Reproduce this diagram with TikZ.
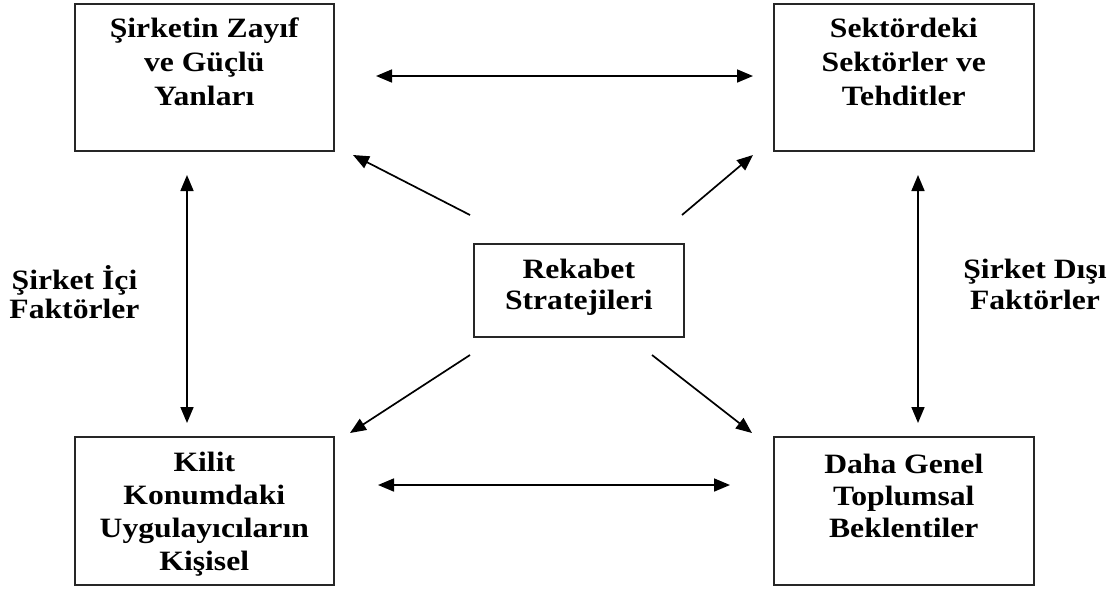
\documentclass[tikz,border=0pt]{standalone}
\usepackage{fontspec}
\setmainfont{Liberation Serif}[FakeStretch=1.13]
\usetikzlibrary{arrows.meta}
\newcommand{\boxtxt}[5]{\parbox[t][#2][t]{#1}{\fontsize{28}{#4}\selectfont\centering\rule{0pt}{#3}#5}}
\begin{document}
\begin{tikzpicture}[x=1pt,y=-1pt,
  box/.style={draw=black!85, line width=1.6pt, inner sep=0pt, anchor=north west, font=\bfseries},
  lbl/.style={inner sep=0pt, anchor=north, font=\bfseries},
  arr/.style={line width=1.7pt, -{Triangle[length=16pt,width=13pt]}},
  darr/.style={line width=1.7pt, {Triangle[length=16pt,width=13pt]}-{Triangle[length=16pt,width=13pt]}}]
\useasboundingbox (0,0) rectangle (1118,590);
\fill[white] (0,0) rectangle (1118,590);

\node[box] (tl) at (74,3) {\boxtxt{259pt}{147pt}{34pt}{34pt}{Şirketin Zayıf\\ ve Güçlü\\ Yanları}};
\node[box] (tr) at (773,3) {\boxtxt{260pt}{147pt}{34pt}{34pt}{Sektördeki\\ Sektörler ve\\ Tehditler}};
\node[box] (c) at (473,243) {\boxtxt{210pt}{93pt}{35pt}{31pt}{Rekabet\\ Stratejileri}};
\node[box] (bl) at (74,436) {\boxtxt{259pt}{148pt}{35pt}{33pt}{Kilit\\ Konumdaki\\ Uygulayıcıların\\ Kişisel}};
\node[box] (br) at (773,436) {\boxtxt{260pt}{148pt}{37pt}{32pt}{Daha Genel\\ Toplumsal\\ Beklentiler}};

\node[lbl] (li) at (74.5,265) {\boxtxt{160pt}{50pt}{21pt}{29pt}{Şirket İçi\\ Faktörler}};
\node[lbl] (ld) at (1035,257) {\boxtxt{160pt}{53pt}{21pt}{31pt}{Şirket Dışı\\ Faktörler}};

\coordinate (h1a) at (376,76);  \coordinate (h1b) at (753,76);
\coordinate (h2a) at (378,485); \coordinate (h2b) at (730,485);
\coordinate (v1a) at (187,175); \coordinate (v1b) at (187,423);
\coordinate (v2a) at (918,175); \coordinate (v2b) at (918,423);
\coordinate (d1s) at (470,215); \coordinate (d1e) at (353,155);
\coordinate (d2s) at (682,215); \coordinate (d2e) at (753,155);
\coordinate (d3s) at (470,355); \coordinate (d3e) at (350,433);
\coordinate (d4s) at (652,355); \coordinate (d4e) at (752,433);

\draw[darr] (h1a) -- (h1b);
\draw[darr] (h2a) -- (h2b);
\draw[darr] (v1a) -- (v1b);
\draw[darr] (v2a) -- (v2b);
\draw[arr] (d1s) -- (d1e);
\draw[arr] (d2s) -- (d2e);
\draw[arr] (d3s) -- (d3e);
\draw[arr] (d4s) -- (d4e);
\end{tikzpicture}
\end{document}
